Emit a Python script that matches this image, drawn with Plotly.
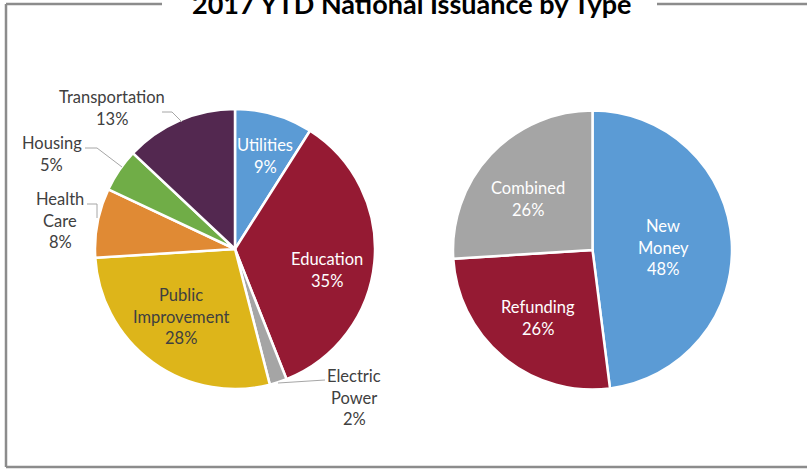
import plotly.graph_objects as go

# Issuance by sector (left pie), clockwise from 12 o'clock
sectors = ["Utilities", "Education", "Electric Power", "Public Improvement",
           "Health Care", "Housing", "Transportation"]
sector_pct = [9, 35, 2, 28, 8, 5, 13]
sector_colors = ["#5B9BD5", "#951A33", "#A5A5A5", "#DDB51A",
                 "#E08A34", "#70AD47", "#532850"]

# Issuance by purpose (right pie)
purposes = ["New Money", "Refunding", "Combined"]
purpose_pct = [48, 26, 26]
purpose_colors = ["#5B9BD5", "#951A33", "#A5A5A5"]

title_text = "2017 YTD National Issuance by Type"

W, H = 807, 469
FONT = "Lato"
DARK = "#404040"
LINE_H = 21.7

# how each category name is broken over lines
wrap = {
    "Electric Power": ["Electric", "Power"],
    "Public Improvement": ["Public", "Improvement"],
    "Health Care": ["Health", "Care"],
    "New Money": ["New", "Money"],
}

# label placement in pixels (x center, y of first line) and text colour
label_pos = {
    "Utilities": (265, 145, "white"),
    "Education": (327, 259, "white"),
    "Electric Power": (354, 376, DARK),
    "Public Improvement": (181, 295, DARK),
    "Health Care": (60, 199, DARK),
    "Housing": (52, 143, DARK),
    "Transportation": (112, 97, DARK),
    "New Money": (663, 226, "white"),
    "Refunding": (538, 307, "white"),
    "Combined": (528, 188, "white"),
}

# leader lines for labels outside the pie (pixel polylines)
leaders = [
    [(162, 112), (172, 112), (182, 122)],
    [(85, 148), (97, 148), (122, 167)],
    [(87, 204), (97, 204), (97, 218)],
    [(278, 383), (325, 380)],
]


def px(x, y):
    return x / W, 1 - y / H


def pie_domain(cx, cy, r):
    return dict(x=[(cx - r) / W, (cx + r) / W],
                y=[1 - (cy + r) / H, 1 - (cy - r) / H])


fig = go.Figure()
fig.add_trace(go.Pie(
    labels=sectors, values=sector_pct, sort=False, direction="clockwise",
    rotation=0, marker=dict(colors=sector_colors, line=dict(color="white", width=2.5)),
    textinfo="none", hoverinfo="label+percent", showlegend=False,
    domain=pie_domain(235, 249, 140),
))
fig.add_trace(go.Pie(
    labels=purposes, values=purpose_pct, sort=False, direction="clockwise",
    rotation=0, marker=dict(colors=purpose_colors, line=dict(color="white", width=2.5)),
    textinfo="none", hoverinfo="label+percent", showlegend=False,
    domain=pie_domain(592.5, 250, 139.5),
))

annotations = []
for names, vals in ((sectors, sector_pct), (purposes, purpose_pct)):
    for name, v in zip(names, vals):
        lines = wrap.get(name, [name]) + [f"{v}%"]
        x0, y0, col = label_pos[name]
        for i, t in enumerate(lines):
            ax, ay = px(x0, y0 + i * LINE_H)
            annotations.append(dict(
                x=ax, y=ay, xref="paper", yref="paper", text=t, showarrow=False,
                xanchor="center", yanchor="middle",
                font=dict(family=FONT, size=16.5, color=col)))

tx, ty = px(411, 3)
annotations.append(dict(
    x=tx, y=ty, xref="paper", yref="paper", text=f"<b>{title_text}</b>",
    showarrow=False, xanchor="center", yanchor="middle",
    font=dict(family=FONT, size=27, color="black")))

shapes = []
frame = "#8C8C8C"
for seg in ([(6, 4), (6, 467)], [(6, 467), (807, 467)],
            [(6, 4), (162, 4)], [(657, 4), (807, 4)]):
    (x0, y0), (x1, y1) = px(*seg[0]), px(*seg[1])
    shapes.append(dict(type="line", xref="paper", yref="paper",
                       x0=x0, y0=y0, x1=x1, y1=y1,
                       line=dict(color=frame, width=2.5)))
for poly in leaders:
    for a, b in zip(poly[:-1], poly[1:]):
        (x0, y0), (x1, y1) = px(*a), px(*b)
        shapes.append(dict(type="line", xref="paper", yref="paper",
                           x0=x0, y0=y0, x1=x1, y1=y1,
                           line=dict(color="#A6A6A6", width=1)))

fig.update_layout(
    width=W, height=H, margin=dict(l=0, r=0, t=0, b=0),
    paper_bgcolor="white", plot_bgcolor="white",
    annotations=annotations, shapes=shapes,
)

fig.write_html("out.html")
